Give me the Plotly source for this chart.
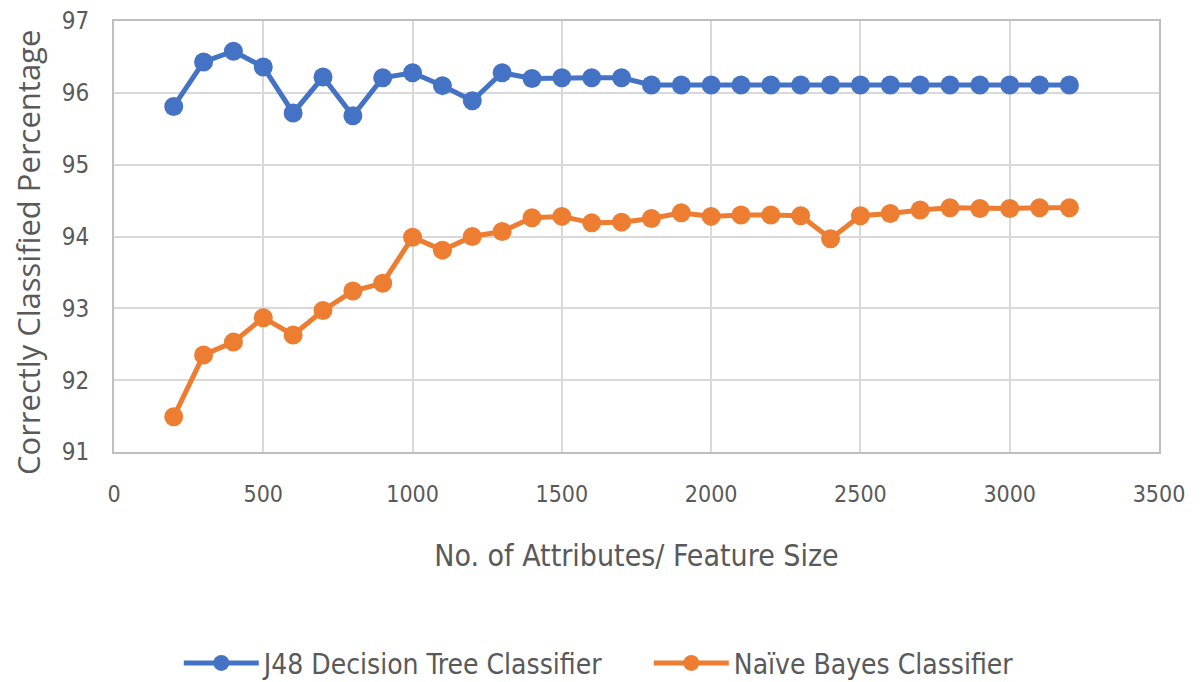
import plotly.graph_objects as go

# Feature sizes (number of attributes)
feature_size = [200, 300, 400, 500, 600, 700, 800, 900, 1000, 1100, 1200, 1300,
                1400, 1500, 1600, 1700, 1800, 1900, 2000, 2100, 2200, 2300, 2400,
                2500, 2600, 2700, 2800, 2900, 3000, 3100, 3200]

# Correctly classified percentage per classifier
j48_tree = [95.81, 96.43, 96.58, 96.36, 95.72, 96.22, 95.68, 96.21, 96.28, 96.10,
            95.89, 96.28, 96.20, 96.21, 96.21, 96.21, 96.11, 96.11, 96.11, 96.11,
            96.11, 96.11, 96.11, 96.11, 96.11, 96.11, 96.11, 96.11, 96.11, 96.11,
            96.11]
naive_bayes = [91.49, 92.35, 92.53, 92.87, 92.63, 92.97, 93.24, 93.35, 93.99, 93.81,
               94.00, 94.07, 94.26, 94.28, 94.19, 94.20, 94.25, 94.33, 94.28, 94.30,
               94.30, 94.29, 93.97, 94.29, 94.32, 94.37, 94.40, 94.39, 94.39, 94.40,
               94.40]

x_ticks = [0, 500, 1000, 1500, 2000, 2500, 3000, 3500]
y_ticks = [91, 92, 93, 94, 95, 96, 97]

BLUE = "#4472C4"
ORANGE = "#ED7D31"
GRID = "#d9d9d9"
TEXT = "#595959"
NARROW = "DejaVu Sans Condensed, Liberation Sans, sans-serif"

fig = go.Figure()
fig.add_trace(go.Scatter(
    x=feature_size, y=j48_tree, mode="lines+markers",
    name="J48 Decision Tree Classifier",
    line=dict(color=BLUE, width=5),
    marker=dict(color=BLUE, size=19),
))
fig.add_trace(go.Scatter(
    x=feature_size, y=naive_bayes, mode="lines+markers",
    name="Naïve Bayes Classifier",
    line=dict(color=ORANGE, width=5),
    marker=dict(color=ORANGE, size=19),
))

fig.update_layout(
    width=1202, height=682,
    margin=dict(l=114, r=43, t=21, b=230, autoexpand=False),
    paper_bgcolor="white", plot_bgcolor="white",
    font=dict(family=NARROW, color=TEXT, size=22),
    showlegend=True,
    legend=dict(
        orientation="h", x=0.062, xanchor="left", y=-0.49, yanchor="middle",
        font=dict(family=NARROW, size=28, color=TEXT),
        itemwidth=75, entrywidth=380, entrywidthmode="pixels",
    ),
    # vertical axis title, placed beside the tick labels
    annotations=[dict(
        text="Correctly Classified Percentage", textangle=-90,
        xref="paper", yref="paper", x=-0.0823, y=0.464,
        xanchor="center", yanchor="middle", showarrow=False,
        font=dict(family="Open Sans, sans-serif", size=31, color=TEXT),
    )],
)

fig.update_xaxes(
    range=[0, 3500], tickvals=x_ticks, ticktext=[str(v) for v in x_ticks],
    showgrid=True, gridcolor=GRID, gridwidth=2,
    showline=True, linecolor="#bfbfbf", linewidth=2, mirror=True,
    zeroline=False, ticks="", ticklabelstandoff=20, automargin=False,
    tickfont=dict(family=NARROW, size=23, color=TEXT),
    title=dict(text="No. of Attributes/ Feature Size",
               font=dict(family=NARROW, size=30, color=TEXT), standoff=39),
)
fig.update_yaxes(
    range=[91, 97], tickvals=y_ticks, ticktext=[str(v) for v in y_ticks],
    showgrid=True, gridcolor=GRID, gridwidth=2,
    showline=True, linecolor="#bfbfbf", linewidth=2, mirror=True,
    zeroline=False, ticks="", ticklabelstandoff=18, automargin=False,
    tickfont=dict(family=NARROW, size=24, color=TEXT),
)

fig.write_html("out.html")
